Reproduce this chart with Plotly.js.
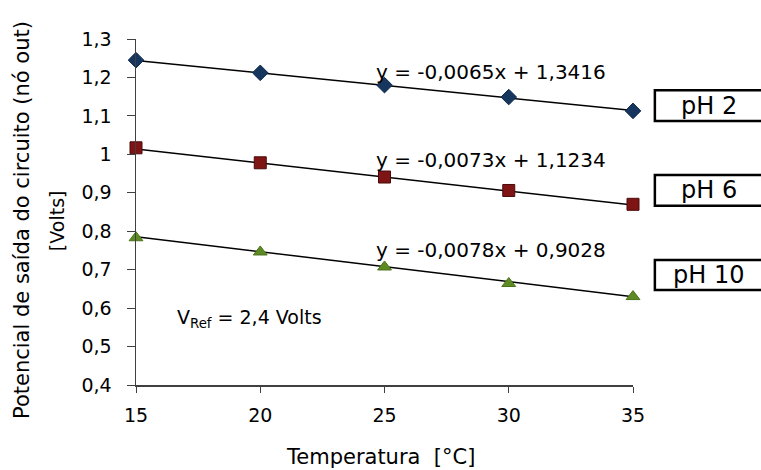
<!DOCTYPE html>
<html><head><meta charset="utf-8">
<script src="https://cdn.plot.ly/plotly-3.0.1.min.js"></script>
<style>html,body{margin:0;padding:0;background:#fff}</style>
</head><body>
<div id="chart" style="width:761px;height:470px"></div>
<script>
const temperatures = [15, 20, 25, 30, 35];
const ph2Values = [1.245, 1.212, 1.180, 1.149, 1.113];
const ph6Values = [1.017, 0.978, 0.941, 0.906, 0.870];
const ph10Values = [0.783, 0.746, 0.707, 0.664, 0.630];
const seriesNames = ['pH 2', 'pH 6', 'pH 10'];
const slopes = [-0.0065, -0.0073, -0.0078];
const intercepts = [1.3416, 1.1234, 0.9028];
const equationLabels = ['y = -0,0065x + 1,3416', 'y = -0,0073x + 1,1234', 'y = -0,0078x + 0,9028'];
const yTickVals = [0.4, 0.5, 0.6, 0.7, 0.8, 0.9, 1.0, 1.1, 1.2, 1.3];
const yTickText = ['0,4', '0,5', '0,6', '0,7', '0,8', '0,9', '1', '1,1', '1,2', '1,3'];
const xTickVals = [15, 20, 25, 30, 35];

const FONT = '"DejaVu Sans", sans-serif';
const series = [ph2Values, ph6Values, ph10Values];
const markers = [
  {symbol: 'diamond', size: 12, color: '#17365D', line: {color: '#0F2A4F', width: 1}},
  {symbol: 'square', size: 12, color: '#7F1414', line: {color: '#4A0A0A', width: 1}},
  {symbol: 'triangle-up', size: 12, color: '#5E8A24', line: {color: '#4C7318', width: 1}}
];
const traces = [];
series.forEach((vals, i) => {
  const xs = [temperatures[0], temperatures[temperatures.length - 1]];
  traces.push({x: xs, y: xs.map(t => slopes[i] * t + intercepts[i]), mode: 'lines',
    line: {color: '#000', width: 1.5}, showlegend: false, hoverinfo: 'skip'});
});
series.forEach((vals, i) => {
  traces.push({x: temperatures, y: vals, mode: 'markers', name: seriesNames[i],
    marker: markers[i], showlegend: false, cliponaxis: false});
});

const eqY = [1.215, 0.985, 0.751];
const boxY = [[1.087, 1.167], [0.866, 0.946], [0.647, 0.725]];
const annotations = equationLabels.map((t, i) => ({
  text: t, x: 34.0, y: eqY[i], xref: 'x', yref: 'y', xanchor: 'right', yanchor: 'middle',
  showarrow: false, font: {family: FONT, size: 20, color: '#000'}
}));
const shapes = [];
seriesNames.forEach((n, i) => {
  shapes.push({type: 'rect', xref: 'paper', yref: 'y', x0: 1.044, x1: 1.32,
    y0: boxY[i][0], y1: boxY[i][1], line: {color: '#000', width: 2.5}, fillcolor: '#fff'});
  annotations.push({text: n, xref: 'paper', yref: 'y', x: 1.152, y: (boxY[i][0] + boxY[i][1]) / 2,
    xanchor: 'center', yanchor: 'middle', showarrow: false, font: {family: FONT, size: 24, color: '#000'}});
});
annotations.push({text: 'V<sub>Ref</sub> = 2,4 Volts', x: 16.55, y: 0.574, xref: 'x', yref: 'y',
  xanchor: 'left', yanchor: 'middle', showarrow: false, font: {family: FONT, size: 19, color: '#000'}});
annotations.push({text: 'Potencial de saída do circuito (nó out)', xref: 'paper', yref: 'paper',
  x: -0.228, y: 0.476, xanchor: 'center', yanchor: 'middle', textangle: -90, showarrow: false,
  font: {family: FONT, size: 21, color: '#000'}});
annotations.push({text: '[Volts]', xref: 'paper', yref: 'paper',
  x: -0.16, y: 0.475, xanchor: 'center', yanchor: 'middle', textangle: -90, showarrow: false,
  font: {family: FONT, size: 19, color: '#000'}});
annotations.push({text: 'Temperatura  [°C]', xref: 'paper', yref: 'paper',
  x: 0.491, y: -0.207, xanchor: 'center', yanchor: 'middle', showarrow: false,
  font: {family: FONT, size: 21, color: '#000'}});

const layout = {
  width: 761, height: 470,
  margin: {l: 136, r: 128, t: 39, b: 85},
  paper_bgcolor: '#fff', plot_bgcolor: '#fff',
  showlegend: false,
  xaxis: {range: [15, 35], tickvals: xTickVals, ticks: 'outside', ticklen: 6, tickcolor: '#404040',
    showline: true, linecolor: '#404040', linewidth: 1.5, showgrid: false, zeroline: false,
    ticklabelstandoff: 7,
    tickfont: {family: FONT, size: 19, color: '#000'}},
  yaxis: {range: [0.4, 1.3], tickvals: yTickVals, ticktext: yTickText, ticks: 'outside', ticklen: 8,
    tickcolor: '#404040', showline: true, linecolor: '#404040', linewidth: 1.5, showgrid: false,
    zeroline: false, ticklabelstandoff: 11, tickfont: {family: FONT, size: 19, color: '#000'}},
  annotations: annotations, shapes: shapes
};
Plotly.newPlot('chart', traces, layout, {displayModeBar: false, staticPlot: true});
</script>
</body></html>
